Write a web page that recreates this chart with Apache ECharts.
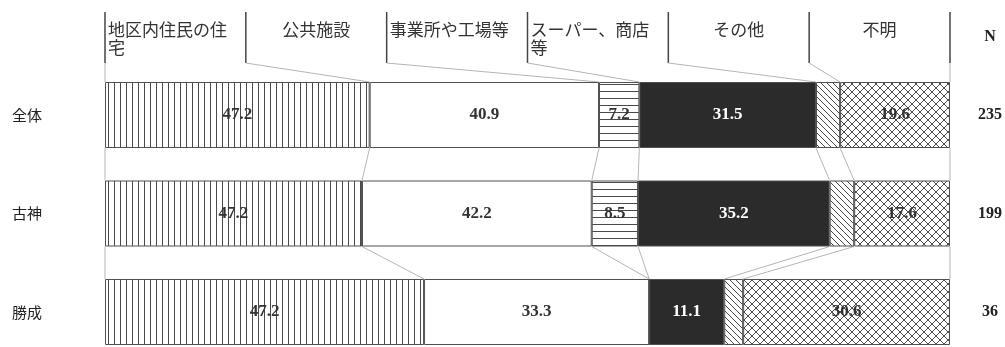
<!DOCTYPE html>
<html>
<head>
<meta charset="utf-8">
<script src="https://cdn.jsdelivr.net/npm/echarts@6.0.0/dist/echarts.min.js"></script>
<style>
  html, body { margin: 0; padding: 0; background: #fff; }
  #main { width: 1005px; height: 347px; }
</style>
</head>
<body>
<div id="main"></div>
<script type="text/javascript">
// 行ラベルと回答数
var rows = ['全体', '古神', '勝成'];
var nValues = [235, 199, 36];
// ヘッダーの項目名
var headerLabels = ['地区内住民の住\n宅', '公共施設', '事業所や工場等', 'スーパー、商店\n等', 'その他', '不明'];
var headerLeft = [true, false, true, true, false, false];
// 各項目の値(%)
var houses  = [47.2, 47.2, 47.2];
var publicF = [40.9, 42.2, 33.3];
var offices = [7.2, 8.5, 0];
var shops   = [31.5, 35.2, 11.1];
var others  = [4.3, 4.5, 2.8];
var unknown = [19.6, 17.6, 30.6];

var seriesData = [houses, publicF, offices, shops, others, unknown];
var seriesNames = ['地区内住民の住宅', '公共施設', '事業所や工場等', 'スーパー、商店等', 'その他', '不明'];

// 帯の長さをそろえる(複数回答なので合計で割る)
var totals = rows.map(function (r, i) {
    return seriesData.reduce(function (s, arr) { return s + arr[i]; }, 0);
});
var cum = rows.map(function (r, i) {
    var acc = [0], s = 0;
    seriesData.forEach(function (arr) { s += arr[i] / totals[i] * 100; acc.push(s); });
    return acc;
});

function makePattern(size, draw) {
    var c = document.createElement('canvas');
    c.width = size; c.height = size;
    var ctx = c.getContext('2d');
    ctx.fillStyle = '#fff';
    ctx.fillRect(0, 0, size, size);
    ctx.strokeStyle = '#4a4a4a';
    ctx.lineWidth = 1;
    ctx.beginPath();
    draw(ctx, size);
    ctx.stroke();
    return { image: c, repeat: 'repeat' };
}
var fills = [
    makePattern(6, function (ctx, s) { ctx.moveTo(0.5, 0); ctx.lineTo(0.5, s); }),
    '#ffffff',
    makePattern(7, function (ctx, s) { ctx.moveTo(0, 0.5); ctx.lineTo(s, 0.5); }),
    '#2b2b2b',
    makePattern(6, function (ctx, s) {
        [-s, 0, s].forEach(function (o) { ctx.moveTo(o, 0); ctx.lineTo(o + s, s); });
    }),
    makePattern(8, function (ctx, s) {
        [-s, 0, s].forEach(function (o) {
            ctx.moveTo(o, 0); ctx.lineTo(o + s, s);
            ctx.moveTo(o + s, 0); ctx.lineTo(o, s);
        });
    })
];

var BAR_W = 66;

var barSeries = seriesData.map(function (arr, s) {
    return {
        name: seriesNames[s],
        type: 'bar',
        stack: 'total',
        barWidth: BAR_W,
        clip: false,
        data: arr.map(function (v, i) { return v / totals[i] * 100; }),
        itemStyle: { color: fills[s], borderColor: '#505050', borderWidth: 1 },
        label: {
            show: true,
            position: 'inside',
            color: s === 3 ? '#fff' : '#333',
            fontFamily: 'Liberation Serif',
            fontWeight: 'bold',
            fontSize: 17,
            formatter: function (p) {
                var v = arr[p.dataIndex];
                return (s === 4 || v === 0) ? '' : v.toFixed(1);
            }
        },
        silent: true
    };
});

// 見出し欄と見出しから帯への線
var headerSeries = {
    type: 'custom',
    silent: true,
    data: headerLabels.map(function (t, i) { return [i, 0]; }),
    renderItem: function (params, api) {
        var i = params.dataIndex;
        var x0 = api.coord([i * 100 / 6, 0])[0];
        var x1 = api.coord([(i + 1) * 100 / 6, 0])[0];
        var barTop = api.coord([0, 0])[1] - BAR_W / 2;
        var children = [
            { type: 'line', shape: { x1: x1, y1: 12, x2: x1, y2: 63 }, style: { stroke: '#444', lineWidth: 1.5 } },
            { type: 'line', shape: { x1: x1, y1: 63, x2: api.coord([cum[0][i + 1], 0])[0], y2: barTop }, style: { stroke: '#b5b5b5', lineWidth: 1 } },
            { type: 'text', style: {
                text: headerLabels[i],
                x: headerLeft[i] ? x0 + 3 : (x0 + x1) / 2,
                y: 21,
                align: headerLeft[i] ? 'left' : 'center',
                verticalAlign: 'top',
                lineHeight: 18,
                font: '17px "Noto Sans CJK JP"',
                fill: '#333'
            } }
        ];
        if (i === 0) {
            children.push({ type: 'line', shape: { x1: x0, y1: 12, x2: x0, y2: 63 }, style: { stroke: '#444', lineWidth: 1.5 } });
            children.push({ type: 'line', shape: { x1: x0, y1: 63, x2: x0, y2: barTop }, style: { stroke: '#b5b5b5', lineWidth: 1 } });
        }
        return { type: 'group', children: children };
    }
};

// 帯どうしをつなぐ区分線
var linkData = [];
[0, 1].forEach(function (r) {
    for (var k = 0; k <= 6; k++) linkData.push([k, r]);
});
var linkSeries = {
    type: 'custom',
    silent: true,
    data: linkData,
    renderItem: function (params, api) {
        var k = api.value(0), r = api.value(1);
        var yA = api.coord([0, r])[1] + BAR_W / 2;
        var yB = api.coord([0, r + 1])[1] - BAR_W / 2;
        return {
            type: 'line',
            shape: {
                x1: api.coord([cum[r][k], r])[0], y1: yA,
                x2: api.coord([cum[r + 1][k], r + 1])[0], y2: yB
            },
            style: { stroke: '#b5b5b5', lineWidth: 1 }
        };
    }
};

var myChart = echarts.init(document.getElementById('main'));
var option = {
    animation: false,
    grid: { left: 105, right: 55, top: 115, height: 197 },
    xAxis: { type: 'value', min: 0, max: 100, show: false },
    yAxis: [{
        type: 'category', inverse: true, data: rows, boundaryGap: false,
        axisLine: { show: false }, axisTick: { show: false },
        axisLabel: { align: 'left', margin: 93, fontSize: 15, color: '#222', fontFamily: 'Noto Sans CJK JP', padding: [8, 0, 0, 0] }
    }, {
        type: 'category', inverse: true, position: 'right', data: rows, boundaryGap: false,
        axisLine: { show: false }, axisTick: { show: false },
        axisLabel: {
            align: 'center', margin: 40, fontSize: 16, color: '#222',
            fontFamily: 'Liberation Serif', fontWeight: 'bold',
            formatter: function (v, i) { return String(nValues[i]); }
        }
    }],
    graphic: [{
        type: 'text', x: 990, y: 37,
        style: { text: 'N', align: 'center', verticalAlign: 'middle', font: 'bold 16px "Liberation Serif"', fill: '#222' }
    }],
    series: barSeries.concat([headerSeries, linkSeries])
};
myChart.setOption(option);
</script>
</body>
</html>
